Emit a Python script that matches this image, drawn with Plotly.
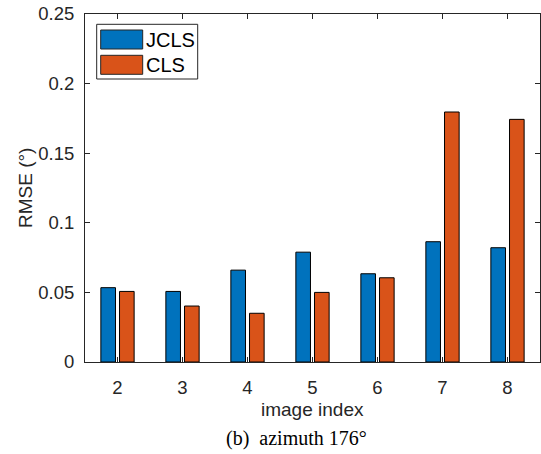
import plotly.graph_objects as go

# RMSE per image index for the two methods
image_index = [2, 3, 4, 5, 6, 7, 8]
rmse_jcls = [0.0534, 0.0507, 0.0660, 0.0789, 0.0634, 0.0864, 0.0821]
rmse_cls = [0.0507, 0.0402, 0.0350, 0.0500, 0.0605, 0.1796, 0.1743]

y_ticks = [0, 0.05, 0.1, 0.15, 0.2, 0.25]
y_tick_text = ["0", "0.05", "0.1", "0.15", "0.2", "0.25"]

BLUE = "#0072BD"
ORANGE = "#D95319"
INK = "#262626"
SANS = "Liberation Sans, Arial, sans-serif"
SERIF = "Liberation Serif, Times New Roman, serif"

W, H = 541, 454
L, R, T, B = 85, 1, 14, 92
PW, PH = W - L - R, H - T - B


def px(x):
    return (x - L) / PW


def py(y):
    return (H - B - y) / PH


BAR_W = 0.225
fig = go.Figure()
fig.add_trace(go.Bar(x=image_index, y=rmse_jcls, name="JCLS", width=BAR_W,
                     offset=-0.256, marker=dict(color=BLUE, line=dict(color="black", width=1)),
                     showlegend=False))
fig.add_trace(go.Bar(x=image_index, y=rmse_cls, name="CLS", width=BAR_W,
                     offset=0.031, marker=dict(color=ORANGE, line=dict(color="black", width=1)),
                     showlegend=False))

axis_common = dict(showline=True, linecolor=INK, linewidth=1, mirror="ticks",
                   ticks="inside", ticklen=5, tickcolor=INK, tickwidth=1,
                   showgrid=False, zeroline=False,
                   tickfont=dict(family=SANS, size=18.5, color=INK))

fig.update_layout(
    width=W, height=H,
    margin=dict(l=L, r=R, t=T, b=B),
    paper_bgcolor="white", plot_bgcolor="white",
    barmode="overlay",
    xaxis=dict(range=[1.5, 8.5], tickvals=image_index,
               ticktext=[str(v) for v in image_index], ticklabelstandoff=9,
               **axis_common),
    yaxis=dict(range=[0, 0.25], tickvals=y_ticks, ticktext=y_tick_text,
               ticklabelstandoff=6, **axis_common),
)

# Axis titles and caption
fig.add_annotation(text="image index", xref="paper", yref="paper", x=0.5, y=py(409),
                   showarrow=False, xanchor="center", yanchor="middle",
                   font=dict(family=SANS, size=19, color=INK))
fig.add_annotation(text="RMSE (°)", xref="paper", yref="paper", x=px(25), y=0.5,
                   textangle=-90, showarrow=False, xanchor="center", yanchor="middle",
                   font=dict(family=SANS, size=19, color=INK))
fig.add_annotation(text="(b)  azimuth 176°", xref="paper", yref="paper", x=px(296.5), y=py(438),
                   showarrow=False, xanchor="center", yanchor="middle",
                   font=dict(family=SERIF, size=20, color="black"))

# Legend box with large colour patches
fig.add_shape(type="rect", xref="paper", yref="paper",
              x0=px(96.7), x1=px(197.7), y0=py(79), y1=py(24.3),
              line=dict(color=INK, width=1), fillcolor="white", layer="above")
for name, color, y0, y1 in [("JCLS", BLUE, 30, 49), ("CLS", ORANGE, 55.3, 74.3)]:
    fig.add_shape(type="rect", xref="paper", yref="paper",
                  x0=px(100.7), x1=px(142.7), y0=py(y1), y1=py(y0),
                  line=dict(color=INK, width=1), fillcolor=color, layer="above")
    fig.add_annotation(text=name, xref="paper", yref="paper", x=px(144), y=py((y0 + y1) / 2),
                       showarrow=False, xanchor="left", yanchor="middle",
                       font=dict(family=SANS, size=20, color="black"))

fig.write_html("out.html")
